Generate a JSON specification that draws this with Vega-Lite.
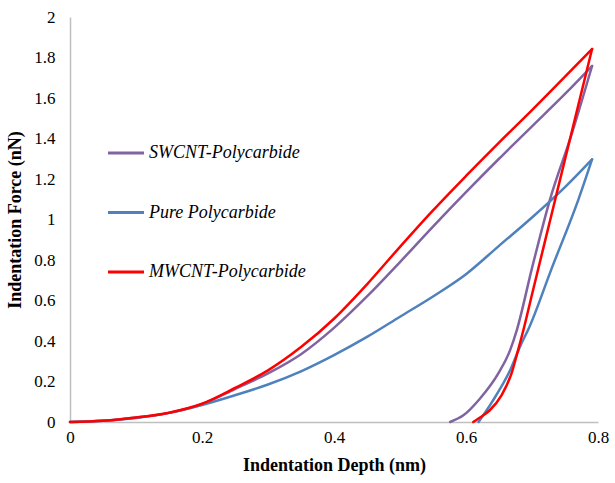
{
  "$schema": "https://vega.github.io/schema/vega-lite/v6.json",
  "width": 528,
  "height": 405,
  "autosize": "none",
  "padding": {"left": 70, "top": 17, "right": 17, "bottom": 61},
  "background": "white",
  "config": {"view": {"stroke": null}, "font": "Liberation Serif"},
  "data": {"values": [
    {"s": "SWCNT-Polycarbide", "p": "load", "x": 0, "y": 0},
    {"s": "SWCNT-Polycarbide", "p": "load", "x": 0.05, "y": 0.006},
    {"s": "SWCNT-Polycarbide", "p": "load", "x": 0.1, "y": 0.022},
    {"s": "SWCNT-Polycarbide", "p": "load", "x": 0.15, "y": 0.045},
    {"s": "SWCNT-Polycarbide", "p": "load", "x": 0.2, "y": 0.088},
    {"s": "SWCNT-Polycarbide", "p": "load", "x": 0.25, "y": 0.163},
    {"s": "SWCNT-Polycarbide", "p": "load", "x": 0.3, "y": 0.24},
    {"s": "SWCNT-Polycarbide", "p": "load", "x": 0.35, "y": 0.335},
    {"s": "SWCNT-Polycarbide", "p": "load", "x": 0.4, "y": 0.465},
    {"s": "SWCNT-Polycarbide", "p": "load", "x": 0.45, "y": 0.62},
    {"s": "SWCNT-Polycarbide", "p": "load", "x": 0.5, "y": 0.79},
    {"s": "SWCNT-Polycarbide", "p": "load", "x": 0.55, "y": 0.965},
    {"s": "SWCNT-Polycarbide", "p": "load", "x": 0.6, "y": 1.135},
    {"s": "SWCNT-Polycarbide", "p": "load", "x": 0.65, "y": 1.3},
    {"s": "SWCNT-Polycarbide", "p": "load", "x": 0.7, "y": 1.46},
    {"s": "SWCNT-Polycarbide", "p": "load", "x": 0.75, "y": 1.62},
    {"s": "SWCNT-Polycarbide", "p": "load", "x": 0.791, "y": 1.758},
    {"s": "SWCNT-Polycarbide", "p": "unload", "x": 0.791, "y": 1.758},
    {"s": "SWCNT-Polycarbide", "p": "unload", "x": 0.76, "y": 1.42},
    {"s": "SWCNT-Polycarbide", "p": "unload", "x": 0.727, "y": 1.096},
    {"s": "SWCNT-Polycarbide", "p": "unload", "x": 0.7, "y": 0.76},
    {"s": "SWCNT-Polycarbide", "p": "unload", "x": 0.677, "y": 0.454},
    {"s": "SWCNT-Polycarbide", "p": "unload", "x": 0.667, "y": 0.356},
    {"s": "SWCNT-Polycarbide", "p": "unload", "x": 0.649, "y": 0.24},
    {"s": "SWCNT-Polycarbide", "p": "unload", "x": 0.621, "y": 0.115},
    {"s": "SWCNT-Polycarbide", "p": "unload", "x": 0.596, "y": 0.033},
    {"s": "SWCNT-Polycarbide", "p": "unload", "x": 0.576, "y": 0},
    {"s": "Pure Polycarbide", "p": "load", "x": 0, "y": 0},
    {"s": "Pure Polycarbide", "p": "load", "x": 0.05, "y": 0.006},
    {"s": "Pure Polycarbide", "p": "load", "x": 0.1, "y": 0.02},
    {"s": "Pure Polycarbide", "p": "load", "x": 0.15, "y": 0.045},
    {"s": "Pure Polycarbide", "p": "load", "x": 0.2, "y": 0.084},
    {"s": "Pure Polycarbide", "p": "load", "x": 0.25, "y": 0.132},
    {"s": "Pure Polycarbide", "p": "load", "x": 0.3, "y": 0.185},
    {"s": "Pure Polycarbide", "p": "load", "x": 0.35, "y": 0.25},
    {"s": "Pure Polycarbide", "p": "load", "x": 0.4, "y": 0.33},
    {"s": "Pure Polycarbide", "p": "load", "x": 0.45, "y": 0.42},
    {"s": "Pure Polycarbide", "p": "load", "x": 0.5, "y": 0.52},
    {"s": "Pure Polycarbide", "p": "load", "x": 0.55, "y": 0.62},
    {"s": "Pure Polycarbide", "p": "load", "x": 0.6, "y": 0.73},
    {"s": "Pure Polycarbide", "p": "load", "x": 0.65, "y": 0.87},
    {"s": "Pure Polycarbide", "p": "load", "x": 0.7, "y": 1.01},
    {"s": "Pure Polycarbide", "p": "load", "x": 0.75, "y": 1.16},
    {"s": "Pure Polycarbide", "p": "load", "x": 0.791, "y": 1.297},
    {"s": "Pure Polycarbide", "p": "unload", "x": 0.791, "y": 1.297},
    {"s": "Pure Polycarbide", "p": "unload", "x": 0.77, "y": 1.096},
    {"s": "Pure Polycarbide", "p": "unload", "x": 0.73, "y": 0.76},
    {"s": "Pure Polycarbide", "p": "unload", "x": 0.694, "y": 0.454},
    {"s": "Pure Polycarbide", "p": "unload", "x": 0.684, "y": 0.388},
    {"s": "Pure Polycarbide", "p": "unload", "x": 0.667, "y": 0.257},
    {"s": "Pure Polycarbide", "p": "unload", "x": 0.641, "y": 0.107},
    {"s": "Pure Polycarbide", "p": "unload", "x": 0.619, "y": 0},
    {"s": "MWCNT-Polycarbide", "p": "load", "x": 0, "y": 0},
    {"s": "MWCNT-Polycarbide", "p": "load", "x": 0.05, "y": 0.006},
    {"s": "MWCNT-Polycarbide", "p": "load", "x": 0.1, "y": 0.022},
    {"s": "MWCNT-Polycarbide", "p": "load", "x": 0.15, "y": 0.046},
    {"s": "MWCNT-Polycarbide", "p": "load", "x": 0.2, "y": 0.09},
    {"s": "MWCNT-Polycarbide", "p": "load", "x": 0.25, "y": 0.168},
    {"s": "MWCNT-Polycarbide", "p": "load", "x": 0.3, "y": 0.255},
    {"s": "MWCNT-Polycarbide", "p": "load", "x": 0.35, "y": 0.37},
    {"s": "MWCNT-Polycarbide", "p": "load", "x": 0.4, "y": 0.51},
    {"s": "MWCNT-Polycarbide", "p": "load", "x": 0.45, "y": 0.68},
    {"s": "MWCNT-Polycarbide", "p": "load", "x": 0.5, "y": 0.865},
    {"s": "MWCNT-Polycarbide", "p": "load", "x": 0.55, "y": 1.045},
    {"s": "MWCNT-Polycarbide", "p": "load", "x": 0.6, "y": 1.215},
    {"s": "MWCNT-Polycarbide", "p": "load", "x": 0.65, "y": 1.38},
    {"s": "MWCNT-Polycarbide", "p": "load", "x": 0.7, "y": 1.54},
    {"s": "MWCNT-Polycarbide", "p": "load", "x": 0.75, "y": 1.705},
    {"s": "MWCNT-Polycarbide", "p": "load", "x": 0.791, "y": 1.842},
    {"s": "MWCNT-Polycarbide", "p": "unload", "x": 0.791, "y": 1.842},
    {"s": "MWCNT-Polycarbide", "p": "unload", "x": 0.76, "y": 1.43},
    {"s": "MWCNT-Polycarbide", "p": "unload", "x": 0.73, "y": 1.03},
    {"s": "MWCNT-Polycarbide", "p": "unload", "x": 0.7, "y": 0.63},
    {"s": "MWCNT-Polycarbide", "p": "unload", "x": 0.687, "y": 0.454},
    {"s": "MWCNT-Polycarbide", "p": "unload", "x": 0.679, "y": 0.356},
    {"s": "MWCNT-Polycarbide", "p": "unload", "x": 0.669, "y": 0.24},
    {"s": "MWCNT-Polycarbide", "p": "unload", "x": 0.654, "y": 0.133},
    {"s": "MWCNT-Polycarbide", "p": "unload", "x": 0.636, "y": 0.058},
    {"s": "MWCNT-Polycarbide", "p": "unload", "x": 0.62, "y": 0.02},
    {"s": "MWCNT-Polycarbide", "p": "unload", "x": 0.611, "y": 0}
  ]},
  "mark": {"type": "line", "strokeWidth": 2.5, "clip": false, "interpolate": "monotone", "strokeCap": "round", "strokeJoin": "round"},
  "encoding": {
    "x": {
      "field": "x", "type": "quantitative",
      "scale": {"domain": [0, 0.8], "nice": false},
      "axis": {
        "title": "Indentation Depth (nm)",
        "values": [0, 0.2, 0.4, 0.6, 0.8],
        "format": "~g",
        "grid": false, "ticks": false,
        "domainColor": "#bfbfbf", "domainWidth": 1.5,
        "labelFont": "Liberation Serif", "labelFontSize": 17, "labelColor": "#000000",
        "labelPadding": 7, "labelFlush": false,
        "titleFont": "Liberation Serif", "titleFontSize": 18, "titleFontWeight": "bold",
        "titleColor": "#000000", "titlePadding": 11
      }
    },
    "y": {
      "field": "y", "type": "quantitative",
      "scale": {"domain": [0, 2], "nice": false},
      "axis": {
        "title": "Indentation Force (nN)",
        "values": [0, 0.2, 0.4, 0.6, 0.8, 1, 1.2, 1.4, 1.6, 1.8, 2],
        "format": "~g",
        "grid": false, "ticks": false,
        "domainColor": "#bfbfbf", "domainWidth": 1.5,
        "labelFont": "Liberation Serif", "labelFontSize": 17, "labelColor": "#000000",
        "labelPadding": 15, "labelFlush": false,
        "titleFont": "Liberation Serif", "titleFontSize": 18, "titleFontWeight": "bold",
        "titleColor": "#000000", "titlePadding": 9
      }
    },
    "color": {
      "field": "s", "type": "nominal",
      "scale": {
        "domain": ["SWCNT-Polycarbide", "Pure Polycarbide", "MWCNT-Polycarbide"],
        "range": ["#8064A2", "#4F81BD", "#FF0000"]
      },
      "legend": {
        "title": null,
        "orient": "none",
        "legendX": 36,
        "legendY": 116,
        "symbolType": "stroke",
        "symbolSize": 1300,
        "symbolStrokeWidth": 3,
        "labelFont": "Liberation Serif",
        "labelFontSize": 18,
        "labelFontStyle": "italic",
        "labelColor": "#000000",
        "labelOffset": 3,
        "rowPadding": 30.5,
        "labelLimit": 300
      }
    },
    "detail": {"field": "p", "type": "nominal"},
    "order": {"field": "x", "type": "quantitative"}
  }
}
